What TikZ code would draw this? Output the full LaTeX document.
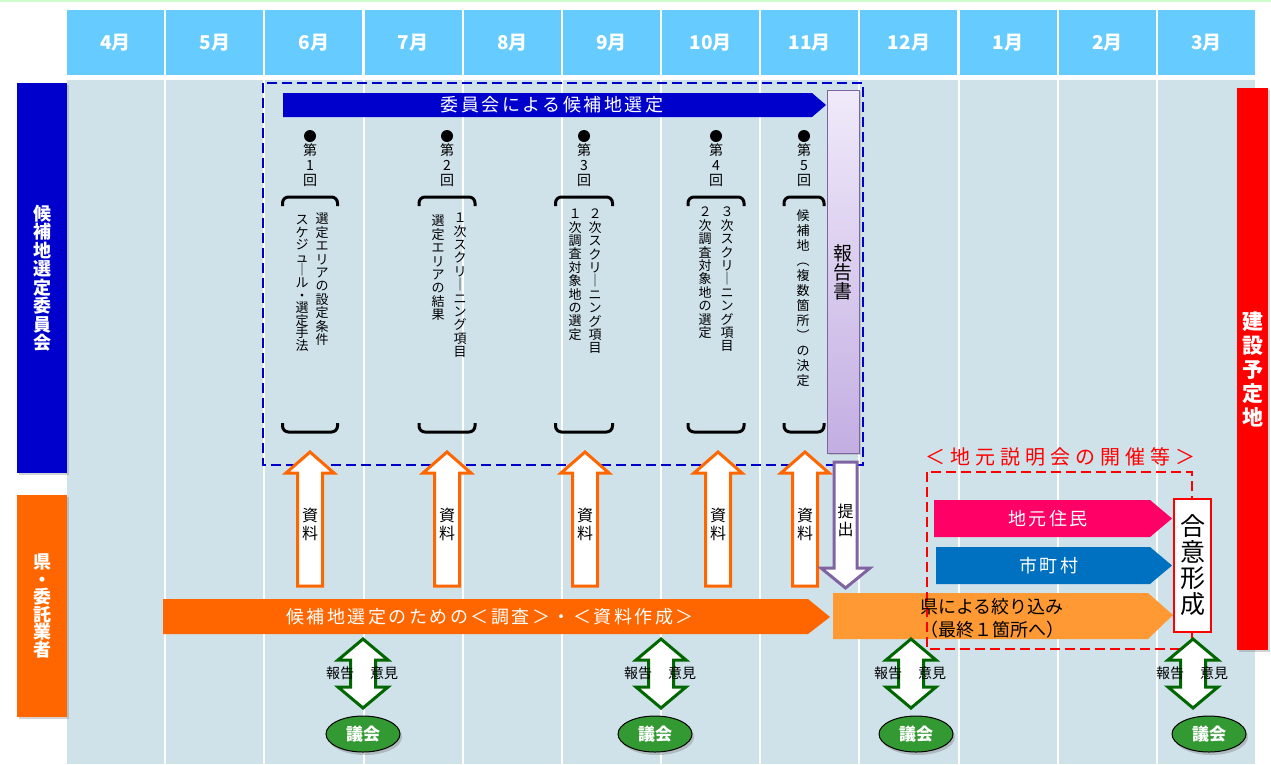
\documentclass[tikz,border=0pt]{standalone}
\usepackage{fontspec}
\setmainfont{Noto Sans CJK JP}
\usetikzlibrary{shapes.geometric,shadows}

\definecolor{hdblue}{HTML}{66CCFF}
\definecolor{bodybg}{HTML}{CFE2EA}
\definecolor{iinblue}{HTML}{0000CC}
\definecolor{kenorange}{HTML}{FF6600}
\definecolor{lightorange}{HTML}{FF9933}
\definecolor{jumin}{HTML}{FF0066}
\definecolor{choson}{HTML}{0070C0}
\definecolor{gikaigreen}{HTML}{339933}
\definecolor{arrowgreen}{HTML}{006600}
\definecolor{teishutsu}{HTML}{8064A2}
\definecolor{lavtop}{HTML}{F0EAFA}
\definecolor{lavbot}{HTML}{C3AEE2}
\definecolor{topline}{HTML}{CCFFCC}

% tategaki: one character under the other
\def\tatestop{\tatestop}
\newcommand\tatebox[2][1.1em]{\vbox{\baselineskip=#1\lineskiplimit=-20pt\relax\tatestep#2\tatestop}}
\def\tatestep#1{\ifx\tatestop#1\else\hbox to 1em{\hss#1\hss}\expandafter\tatestep\fi}
\newcommand\jfs[2]{\fontsize{#1}{#2}\selectfont}

\tikzset{
  monthcell/.style={
    fill=hdblue,
    text=white,
    minimum width=97pt,
    minimum height=65pt,
    inner sep=0pt,
    font=\jfs{19}{20}\bfseries
  },
  sidebar/.style={
    rectangle,
    text=white,
    minimum width=50pt,
    inner sep=0pt,
    drop shadow={opacity=0.35,shadow xshift=1.5pt,shadow yshift=-1.5pt},
    font=\jfs{18}{19}\bfseries
  },
  meetno/.style={anchor=north, inner sep=0pt, font=\jfs{14}{15}},
  meettext/.style={anchor=north, inner sep=0pt, font=\jfs{13}{14}},
  kakko/.style={line width=3pt, rounded corners=6pt},
  bartext/.style={text=white, inner sep=0pt, font=\jfs{18}{20}\addfontfeatures{LetterSpace=14}},
  arrowtext/.style={inner sep=0pt, font=\jfs{16}{18}},
  shiryo/.style={draw=kenorange, fill=white, line width=3pt, line join=miter},
  teishutsuarrow/.style={draw=teishutsu, fill=white, line width=3pt, line join=miter},
  gikaiarrow/.style={draw=arrowgreen, fill=white, line width=3pt, line join=miter},
  smalltext/.style={inner sep=0pt, font=\jfs{14}{15}},
  gikai/.style={
    ellipse,
    draw=black,
    line width=1pt,
    fill=gikaigreen,
    text=white,
    minimum width=74pt,
    minimum height=36pt,
    inner sep=0pt,
    drop shadow={opacity=0.4,shadow xshift=2pt,shadow yshift=-3pt},
    font=\jfs{17}{18}\bfseries
  },
  gouibox/.style={
    draw=red,
    line width=2pt,
    fill=white,
    minimum width=37pt,
    minimum height=133pt,
    inner sep=0pt,
    font=\jfs{25}{26}
  },
  framedash/.style={line width=2.5pt, dash pattern=on 10pt off 5pt}
}

\begin{document}
\begin{tikzpicture}[x=1pt,y=-1pt]
\useasboundingbox (0,0) rectangle (1271,764);
\draw[topline, line width=1.5pt] (0,1) -- (1271,1);

% months
\foreach \m [count=\i from 0] in {4,5,6,7,8,9,10,11,12,1,2,3}
  \node[monthcell] (month\i) at ({115.6+99.17*\i},42.5) {\m{}月};

% body
\fill[bodybg] (66,80) rectangle (1256,764);
\foreach \i in {0,...,12}
  \draw[white, line width=2pt] ({66+99.17*\i},80) -- ({66+99.17*\i},764);

% left labels
\node[sidebar, fill=iinblue, minimum height=390pt] (iinkai) at (42,278) {\tatebox[18.5pt]{候補地選定委員会}};
\node[sidebar, fill=kenorange, minimum height=222pt] (ken) at (42,606) {\tatebox[17.5pt]{県・委託業者}};

% committee frame
\draw[iinblue, framedash] (263,83) rectangle (863,465);

% selection by the committee
\fill[iinblue] (283,93) -- (812,93) -- (826,105) -- (812,117) -- (283,117) -- cycle;
\node[bartext] (sentei) at (552,105) {委員会による候補地選定};

% meetings
\foreach \x/\n/\w in {310/1/27.5,447/2/28,584/3/28.5,716/4/28,804/5/20}{
  \fill (\x,136) circle (6pt);
  \node[meetno] (dai\n) at (\x,143) {\tatebox[15pt]{第{\n}回}};
  \draw[kakko] (\x-\w,206) -- (\x-\w,197) -- (\x+\w,197) -- (\x+\w,206);
  \draw[kakko] (\x-\w,423) -- (\x-\w,432) -- (\x+\w,432) -- (\x+\w,423);
}

\node[meettext] (kaiA1) at (322,213) {\tatebox[13.4pt]{選定エリアの設定条件}};
\node[meettext] (kaiA2) at (302,215) {\tatebox[12.6pt]{スケジュ｜ル・選定手法}};
\node[meettext] (kaiB1) at (460,213) {\tatebox[13.4pt]{１次スクリ｜ニング項目}};
\node[meettext] (kaiB2) at (438,215) {\tatebox[13.4pt]{選定エリアの結果}};
\node[meettext] (kaiC1) at (595,209) {\tatebox[13.4pt]{２次スクリ｜ニング項目}};
\node[meettext] (kaiC2) at (575,209) {\tatebox[13.4pt]{１次調査対象地の選定}};
\node[meettext] (kaiD1) at (727,207) {\tatebox[13.4pt]{３次スクリ｜ニング項目}};
\node[meettext] (kaiD2) at (705,207) {\tatebox[13.4pt]{２次調査対象地の選定}};
\node[meettext] (kaiE1) at (803,209) {\tatebox[15pt]{候補地︵複数箇所︶の決定}};

% report
\draw[teishutsu, line width=1pt, top color=lavtop, bottom color=lavbot,
  drop shadow={opacity=0.3,shadow xshift=1.5pt,shadow yshift=-1.5pt}] (827,90) rectangle (859,453);
\node[inner sep=0pt, font=\jfs{19}{20}] (hokokusho) at (843,272) {\tatebox[19pt]{報告書}};

% materials
\foreach \x [count=\k] in {310,447,585,718,805}{
  \draw[shiryo] (\x,452) -- (\x+24,473) -- (\x+12.5,473) -- (\x+12.5,586)
    -- (\x-12.5,586) -- (\x-12.5,473) -- (\x-24,473) -- cycle;
  \node[arrowtext] (shiryo\k) at (\x,524) {\tatebox[18pt]{資料}};
}

% submission
\draw[teishutsuarrow] (834,462) -- (857,462) -- (857,568) -- (870,568) -- (845.5,588)
  -- (821,568) -- (834,568) -- cycle;
\node[arrowtext] (teishutsu) at (845.5,520) {\tatebox[18pt]{提出}};

% survey and narrowing down
\fill[kenorange] (163,599) -- (808,599) -- (830,617) -- (808,634) -- (163,634) -- cycle;
\node[bartext] (chosa) at (490,617) {候補地選定のための＜調査＞・＜資料作成＞};
\fill[lightorange] (833,593) -- (1148,593) -- (1173,615) -- (1148,639) -- (833,639) -- cycle;
\fill[jumin] (934,500) -- (1150,500) -- (1172,518.5) -- (1150,537) -- (934,537) -- cycle;
\fill[choson] (936,547) -- (1150,547) -- (1172,565.5) -- (1150,584) -- (936,584) -- cycle;

% local briefing
\draw[red, framedash] (927,472) rectangle (1192,649);
\node[text=red, inner sep=0pt, font=\jfs{20}{22}\addfontfeatures{LetterSpace=25}] (setsumei) at (1060,457) {＜地元説明会の開催等＞};
\node[anchor=west, align=left, inner sep=0pt, font=\jfs{18}{23}] (shiborikomi) at (920,618) {県による絞り込み\\（最終１箇所へ）};
\node[bartext] (juminlbl) at (1048,518.5) {地元住民};
\node[bartext] (chosonlbl) at (1049,565.5) {市町村};
\node[gouibox] (goui) at (1192.5,565.5) {\tatebox[26pt]{合意形成}};

% council
\foreach \x/\e [count=\k] in {363/363,661/655,911/916,1193/1209}{
  \draw[gikaiarrow] (\x,639) -- (\x+25,660) -- (\x+12.5,660) -- (\x+12.5,687) -- (\x+25,687)
    -- (\x,708) -- (\x-25,687) -- (\x-12.5,687) -- (\x-12.5,660) -- (\x-25,660) -- cycle;
  \node[smalltext] (hokoku\k) at (\x-23,673) {報告};
  \node[smalltext] (iken\k) at (\x+21,673) {意見};
  \node[gikai] (gikai\k) at (\e,734) {議会};
}

% construction site
\node[sidebar, fill=red, minimum width=31pt, minimum height=562pt, font=\jfs{21}{22}\bfseries] (kensetsu) at (1252.5,369) {\tatebox[24pt]{建設予定地}};

\end{tikzpicture}
\end{document}
